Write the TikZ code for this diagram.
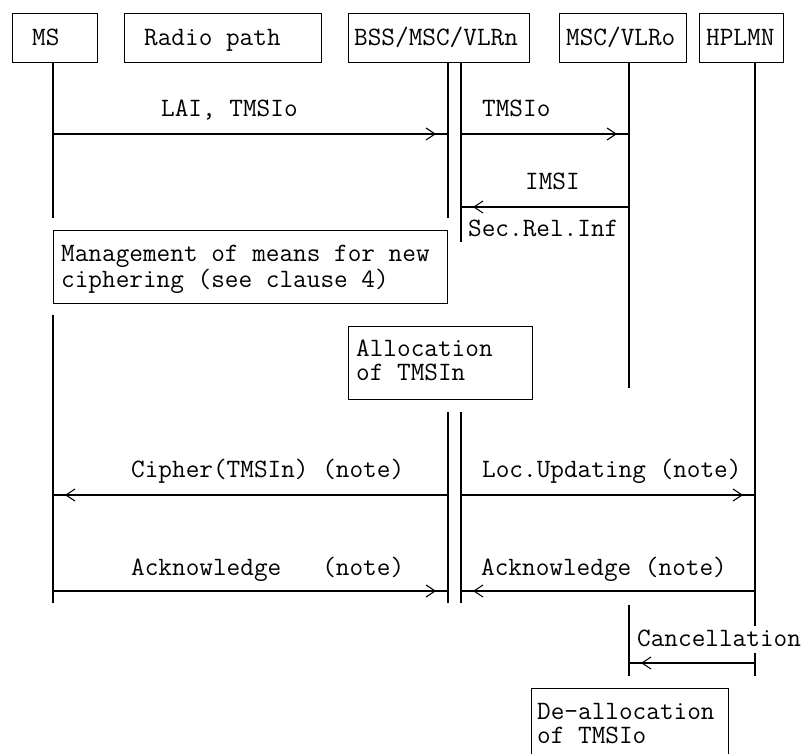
\documentclass[tikz,border=0pt]{standalone}
\usepackage{fontspec}
\usetikzlibrary{arrows.meta,decorations.markings}
\newcommand\twolines[2]{\begin{tabular}[t]{@{}l@{}}#1\\#2\end{tabular}}
\begin{document}
\begin{tikzpicture}[x=1pt,y=-1pt,
  every node/.style={inner sep=0pt, font=\ttfamily\fontsize{26.5}{24}\selectfont},
  box/.style={draw, line width=1.2pt, anchor=north west},
  lbl/.style={anchor=base west},
  life/.style={line width=1.2pt},
  msg/.style={line width=1.1pt, postaction={decorate},
    decoration={markings, mark=at position -12pt with {\arrow[line width=1.1pt]{Straight Barb[length=9pt,width=12pt]}}}},
]
\useasboundingbox (0,0) rectangle (807,754);
\clip (0,0) rectangle (807,754);
\fill[white] (0,0) rectangle (807,754);

% header boxes
\node[box, minimum width=85pt, minimum height=49pt] (ms) at (12,13) {};
\node[box, minimum width=197pt, minimum height=49pt] (rp) at (124,13) {};
\node[box, minimum width=181pt, minimum height=49pt] (bss) at (348,13) {};
\node[box, minimum width=127pt, minimum height=49pt] (vlro) at (559,13) {};
\node[box, minimum width=84pt, minimum height=49pt] (hplmn) at (699,13) {};
\node[lbl] (mst) at (32,46) {MS};
\node[lbl] (rpt) at (144,46) {Radio path};
\node[lbl] (bsst) at (354,46) {BSS/MSC/VLRn};
\node[lbl] (vlrot) at (566,46) {MSC/VLRo};
\node[lbl] (hplmnt) at (706,46) {HPLMN};

% lifeline points
\coordinate (ms1) at (53,62);  \coordinate (ms2) at (53,218);
\coordinate (ms3) at (53,315); \coordinate (ms4) at (53,603);
\coordinate (bl1) at (448,62); \coordinate (bl2) at (448,218);
\coordinate (bl3) at (448,412); \coordinate (bl4) at (448,603);
\coordinate (br1) at (461,62); \coordinate (br2) at (461,242);
\coordinate (br3) at (461,412); \coordinate (br4) at (461,603);
\coordinate (vo1) at (629,62); \coordinate (vo2) at (629,388);
\coordinate (vo3) at (629,605); \coordinate (vo4) at (629,676);
\coordinate (hp1) at (755,62); \coordinate (hp2) at (755,676);

\draw[life] (ms1) -- (ms2);  \draw[life] (ms3) -- (ms4);
\draw[life] (bl1) -- (bl2);  \draw[life] (bl3) -- (bl4);
\draw[life] (br1) -- (br2);  \draw[life] (br3) -- (br4);
\draw[life] (vo1) -- (vo2);  \draw[life] (vo3) -- (vo4);
\draw[life] (hp1) -- (hp2);

% message end points
\coordinate (m1a) at (53,134);  \coordinate (m1b) at (448,134);
\coordinate (m2a) at (461,134); \coordinate (m2b) at (629,134);
\coordinate (m3a) at (629,207); \coordinate (m3b) at (461,207);
\coordinate (m4a) at (448,495); \coordinate (m4b) at (53,495);
\coordinate (m5a) at (461,495); \coordinate (m5b) at (755,495);
\coordinate (m6a) at (53,591);  \coordinate (m6b) at (448,591);
\coordinate (m7a) at (755,591); \coordinate (m7b) at (461,591);
\coordinate (m8a) at (755,663); \coordinate (m8b) at (629,663);

\draw[msg] (m1a) -- (m1b);
\draw[msg] (m2a) -- (m2b);
\draw[msg] (m3a) -- (m3b);
\draw[msg] (m4a) -- (m4b);
\draw[msg] (m5a) -- (m5b);
\draw[msg] (m6a) -- (m6b);
\draw[msg] (m7a) -- (m7b);
\draw[msg] (m8a) -- (m8b);

% message labels
\node[lbl] (l1) at (161,117) {LAI, TMSIo};
\node[lbl] (l2) at (482,117) {TMSIo};
\node[lbl] (l3) at (525,190) {IMSI};
\node[lbl] (l3b) at (468,237) {Sec.Rel.Inf};
\node[lbl] (l4) at (131,478) {Cipher(TMSIn) (note)};
\node[lbl] (l5) at (482,478) {Loc.Updating (note)};
\node[lbl] (l6) at (131,575) {Acknowledge\ \ \ (note)};
\node[lbl] (l7) at (481,575) {Acknowledge (note)};
\node[lbl, fill=white, inner ysep=3pt, text depth=4pt] (l8) at (637,646) {Cancellation};

% action boxes
\node[box, minimum width=394pt, minimum height=73pt] (mgmt) at (53,230) {};
\node[lbl] (mgmtt) at (61,262) {\twolines{Management of means for new}{ciphering (see clause 4)}};
\node[box, minimum width=184pt, minimum height=73pt] (alloc) at (348,326) {};
\node[lbl] (alloct) at (356,357) {\twolines{Allocation}{of TMSIn}};
\node[box, minimum width=197pt, minimum height=90pt] (dealloc) at (531,688) {};
\node[lbl] (dealloct) at (537,719) {\twolines{De-allocation}{of TMSIo}};
\end{tikzpicture}
\end{document}
